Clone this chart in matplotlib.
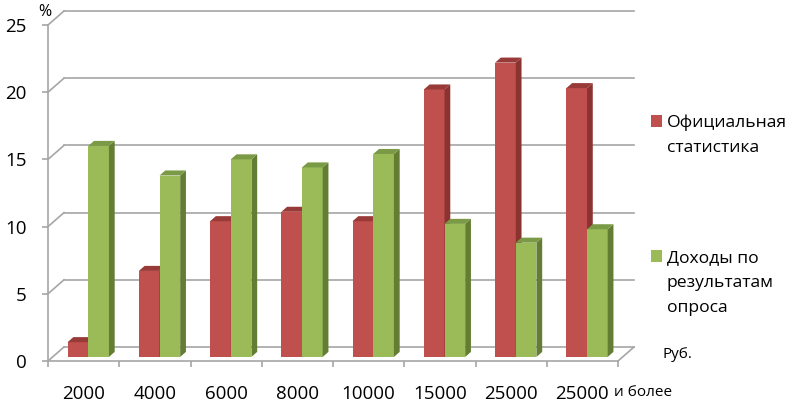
import matplotlib
matplotlib.use("Agg")
import matplotlib.pyplot as plt
from matplotlib.patches import Polygon, Rectangle
import numpy as np

# ---- data ----
categories = ["2000", "4000", "6000", "8000", "10000", "15000", "25000", "25000"]
last_suffix = "и более"
official = [1.1, 6.4, 10.1, 10.8, 10.1, 19.9, 21.9, 20.0]
survey = [15.7, 13.5, 14.7, 14.1, 15.1, 9.9, 8.5, 9.5]
series_labels = ["Официальная\nстатистика", "Доходы по\nрезультатам\nопроса"]
y_ticks = [0, 5, 10, 15, 20, 25]
y_unit = "%"
x_unit = "Руб."

# ---- style ----
FONT = ["Open Sans", "DejaVu Sans"]
plt.rcParams['font.family'] = FONT
W, H = 793, 405
GRID = "#A6A6A6"
front_cols = ["#C0504D", "#9BBB59"]
top_cols = ["#983B38", "#7A9A45"]
side_cols = ["#8A3330", "#637D33"]

fig = plt.figure(figsize=(W / 100, H / 100), dpi=100)
ax = fig.add_axes([48 / W, (H - 361) / H, 570 / W, 336 / H])
n = len(categories)
ymax = y_ticks[-1]
ax.set_xlim(0, n)
ax.set_ylim(0, ymax)

px_x = 570 / n          # pixels per category
px_y = 336 / ymax       # pixels per unit
DX = 16 / px_x          # full depth offset (data units)
DY = 14 / px_y

# axis spines / ticks
for s in ["top", "right"]:
    ax.spines[s].set_visible(False)
for s in ["left", "bottom"]:
    ax.spines[s].set_color(GRID)
    ax.spines[s].set_linewidth(1.2)
ax.set_yticks(y_ticks)
ax.set_yticklabels([str(t) for t in y_ticks])
ax.tick_params(axis="y", direction="out", length=4.3, width=1.2, color=GRID,
               pad=11, labelsize=13.5, labelcolor="black")
ax.set_xticks(np.arange(n + 1))
ax.set_xticklabels([])
ax.tick_params(axis="x", which="major", direction="out", length=4.3, width=1.2, color=GRID)
ax.set_xticks(np.arange(n) + 0.5, minor=True)
ax.set_xticklabels(categories, minor=True)
ax.tick_params(axis="x", which="minor", length=0, pad=17, labelsize=13.5)

# back gridlines + diagonals
for t in y_ticks:
    ax.plot([0, DX], [t, t + DY], color=GRID, lw=1.2, clip_on=False, zorder=1)
    ax.plot([DX, n + DX], [t + DY, t + DY], color=GRID, lw=1.2, clip_on=False, zorder=1)
ax.plot([n, n + DX], [0, DY], color=GRID, lw=1.2, clip_on=False, zorder=1)

# bars (pseudo-3D)
w = 0.29
f_front = 0.29
f_bar = 0.36
fdx, fdy = f_front * DX, f_front * DY
bdx, bdy = f_bar * DX, f_bar * DY
z = 3
for i in range(n):
    for k, vals in enumerate([official, survey]):
        v = vals[i]
        x0 = i + 0.5 - w + k * w + fdx
        x1 = x0 + w
        b = fdy
        ax.bar(x0, v, width=w, bottom=b, align="edge", color=front_cols[k],
               edgecolor="none", zorder=z, clip_on=False)
        side = Polygon([(x1, b), (x1, b + v), (x1 + bdx, b + v + bdy), (x1 + bdx, b + bdy)],
                       closed=True, facecolor=side_cols[k], edgecolor="none", zorder=z, clip_on=False)
        top = Polygon([(x0, b + v), (x1, b + v), (x1 + bdx, b + v + bdy), (x0 + bdx, b + v + bdy)],
                      closed=True, facecolor=top_cols[k], edgecolor="none", zorder=z, clip_on=False)
        ax.add_patch(side)
        ax.add_patch(top)
        z += 1

# extra labels
fig.text(45 / W, 1 - 12 / H, y_unit, ha="center", va="center", fontsize=11.5)
fig.text(663 / W, 1 - 355 / H, x_unit, ha="left", va="center", fontsize=11)
fig.text(614 / W, 1 - 392 / H, last_suffix, ha="left", va="center", fontsize=11)

# legend (manual)
leg_y = [121, 256]
for k, lab in enumerate(series_labels):
    fig.patches.append(Rectangle((651 / W, 1 - (leg_y[k] + 6) / H), 11 / W, 12 / H,
                                 transform=fig.transFigure, facecolor=front_cols[k],
                                 edgecolor="none"))
    fig.text(667 / W, 1 - (leg_y[k] - 6) / H, lab, ha="left", va="top",
             fontsize=12.6, linespacing=1.75)

fig.savefig("out.png", dpi=100)
